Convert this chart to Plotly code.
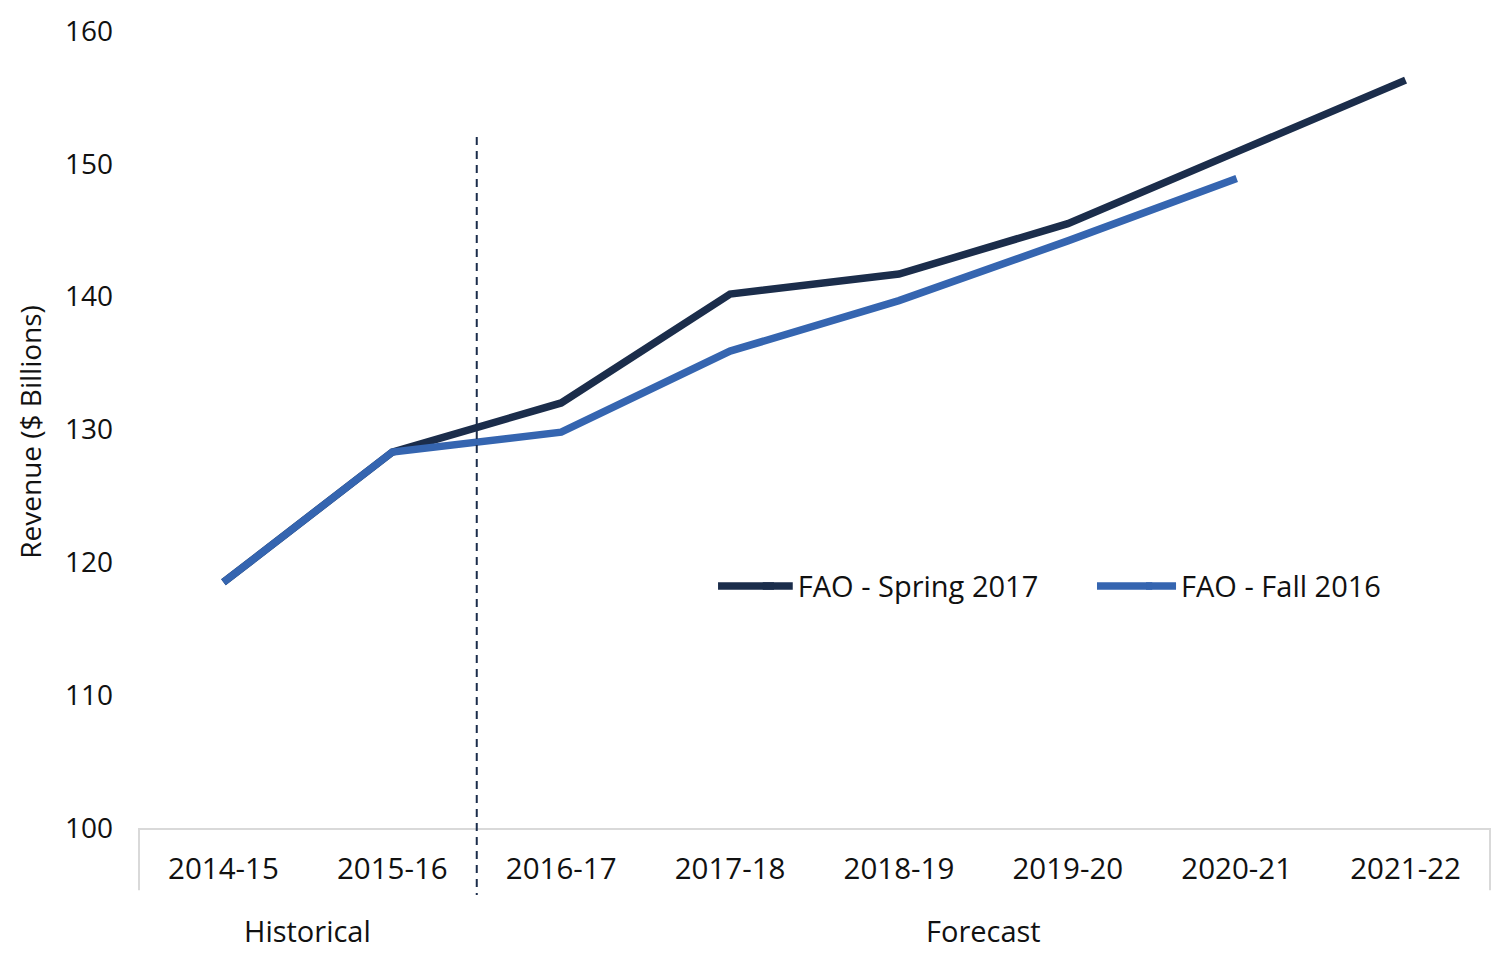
import plotly.graph_objects as go

categories = ["2014-15", "2015-16", "2016-17", "2017-18", "2018-19", "2019-20", "2020-21", "2021-22"]
spring_2017 = [118.5, 128.3, 132.0, 140.2, 141.7, 145.5, 150.9, 156.3]
fall_2016 = [118.5, 128.3, 129.8, 135.9, 139.7, 144.2, 148.9, None]
y_ticks = [100, 110, 120, 130, 140, 150, 160]
groups = [("Historical", 0.5), ("Forecast", 4.5)]

FONT = "Open Sans"
DARK = "#1b2d4b"
BLUE = "#3565b0"
TXT = "#111111"
LW = 7.5

fig = go.Figure()
fig.add_trace(go.Scatter(x=categories, y=spring_2017, mode="lines", name="FAO - Spring 2017",
                         line=dict(color=DARK, width=LW), legend="legend"))
fig.add_trace(go.Scatter(x=categories, y=fall_2016, mode="lines", name="FAO - Fall 2016",
                         line=dict(color=BLUE, width=LW), legend="legend2"))

# historical / forecast separator and axis frame ticks
fig.add_shape(type="line", xref="paper", yref="paper", x0=0.25, x1=0.25, y0=0.867, y1=-0.084,
              line=dict(color=DARK, width=2, dash="8px,6px"), layer="above")
for xv in (0.0, 1.0):
    fig.add_shape(type="line", xref="paper", yref="paper", x0=xv, x1=xv, y0=0, y1=-0.078,
                  line=dict(color="#d9d9d9", width=2), layer="above")

# longer legend key glyphs (Excel-style)
LEG_Y = 0.3036
for (x0, x1), col in (((0.4286, 0.4700), DARK), ((0.7091, 0.7500), BLUE)):
    fig.add_shape(type="line", xref="paper", yref="paper", x0=x0, x1=x1, y0=LEG_Y, y1=LEG_Y,
                  line=dict(color=col, width=LW), layer="above")

for label, xc in groups:
    fig.add_annotation(text=label, xref="x", yref="paper", x=xc, y=-0.128, showarrow=False,
                       xanchor="center", yanchor="middle", font=dict(family=FONT, size=29, color=TXT))

fig.add_annotation(text="Revenue ($ Billions)", xref="paper", yref="paper", x=-0.0805, y=0.4975,
                   textangle=-90, showarrow=False, xanchor="center", yanchor="middle",
                   font=dict(family=FONT, size=28, color=TXT))

legend_common = dict(orientation="h", y=LEG_Y, xanchor="left", yanchor="middle",
                     font=dict(family=FONT, size=29, color=TXT), bgcolor="rgba(0,0,0,0)")

fig.update_layout(
    width=1492, height=968,
    margin=dict(l=131, r=10, t=23, b=148, autoexpand=False),
    paper_bgcolor="white", plot_bgcolor="white",
    font=dict(family=FONT, color=TXT),
    showlegend=True,
    legend=dict(x=0.458, **legend_common),
    legend2=dict(x=0.7417, **legend_common),
    xaxis=dict(type="category", range=[-0.5, 7.5], showline=True, linecolor="#d9d9d9", linewidth=2,
               showgrid=False, zeroline=False, ticks="", tickfont=dict(family=FONT, size=29.5, color=TXT),
               ticklabelstandoff=14, automargin=False),
    yaxis=dict(range=[100, 160], tickvals=y_ticks, showline=False, showgrid=False, zeroline=False,
               ticks="", tickfont=dict(family=FONT, size=28, color=TXT), ticklabelstandoff=25,
               automargin=False),
)

fig.write_html("out.html")
